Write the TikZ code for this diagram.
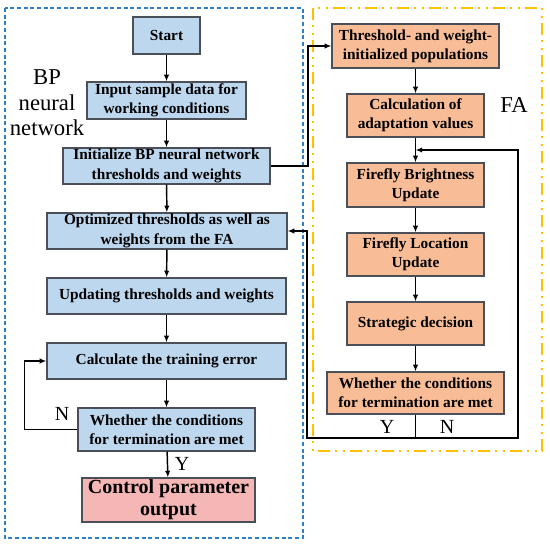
\documentclass[tikz,border=0pt]{standalone}
\usepackage{fontspec}
\setmainfont{Liberation Serif}
\usetikzlibrary{arrows.meta,positioning}
\definecolor{bpfill}{HTML}{BDD7EE}
\definecolor{fafill}{HTML}{F8BD96}
\definecolor{outfill}{HTML}{F4B7B5}
\definecolor{bpline}{HTML}{2E7FC6}
\definecolor{faline}{HTML}{FFC000}
\definecolor{boxline}{HTML}{4A4F58}

\begin{document}
\begin{tikzpicture}[x=0.75pt,y=-0.75pt,>={Latex[length=5pt,width=4pt]},
  bpbox/.style={draw=boxline,line width=0.9pt,fill=bpfill,align=center,font=\fontsize{11.5}{14.5}\selectfont\bfseries,inner sep=1pt},
  fabox/.style={draw=boxline,line width=0.9pt,fill=fafill,align=center,font=\fontsize{11.5}{14.5}\selectfont\bfseries,inner sep=1pt},
  flow/.style={line width=1.1pt,->},
  lbl/.style={font=\fontsize{15}{19}\selectfont,align=center}]
\useasboundingbox (0,0) rectangle (550,544);
% enclosures
\draw[bpline,line width=1.6pt,dash pattern=on 3pt off 2pt] (5,8) rectangle (303,538);
\draw[faline,line width=1.8pt,dash pattern=on 9pt off 4pt on 1.5pt off 4pt on 1.5pt off 4pt] (313,8) rectangle (542,451);
\node[lbl,font=\fontsize{17}{19}\selectfont] (bplbl) at (47,103) {BP\\neural\\network};
\node[lbl,font=\fontsize{17}{19}\selectfont] (falbl) at (514,105) {FA};
% BP column
\node[bpbox,minimum width=67*0.75pt,minimum height=37*0.75pt] (start) at (166.5,35.5) {Start};
\node[bpbox,minimum width=159*0.75pt,minimum height=37*0.75pt] (input) at (166.5,100.5) {Input sample data for\\working conditions};
\node[bpbox,minimum width=207*0.75pt,minimum height=36*0.75pt] (init) at (166.5,166) {Initialize BP neural network\\thresholds and weights};
\node[bpbox,minimum width=240*0.75pt,minimum height=36*0.75pt] (opt) at (167,231) {Optimized thresholds as well as\\weights from the FA};
\node[bpbox,minimum width=239*0.75pt,minimum height=36*0.75pt] (upd) at (166.5,296) {Updating thresholds and weights};
\node[bpbox,minimum width=239*0.75pt,minimum height=36*0.75pt] (calc) at (166.5,361) {Calculate the training error};
\node[bpbox,minimum width=177*0.75pt,minimum height=43*0.75pt] (cond) at (166.5,429.5) {Whether the conditions\\for termination are met};
\node[draw=boxline,line width=0.9pt,fill=outfill,align=center,font=\fontsize{15}{16.5}\selectfont\bfseries,inner sep=1pt,minimum width=173*0.75pt,minimum height=44*0.75pt] (out) at (168.5,500) {Control parameter\\output};
% FA column
\node[fabox,minimum width=167*0.75pt,minimum height=44*0.75pt] (pop) at (415.5,46) {Threshold- and weight-\\initialized populations};
\node[fabox,minimum width=137*0.75pt,minimum height=43*0.75pt] (fit) at (415.5,115.5) {Calculation of\\adaptation values};
\node[fabox,minimum width=137*0.75pt,minimum height=44*0.75pt] (bright) at (415.5,185) {Firefly Brightness\\Update};
\node[fabox,minimum width=137*0.75pt,minimum height=43*0.75pt] (loc) at (415.5,254.5) {Firefly Location\\Update};
\node[fabox,minimum width=137*0.75pt,minimum height=43*0.75pt] (strat) at (415.5,323.5) {Strategic decision};
\node[fabox,minimum width=177*0.75pt,minimum height=42*0.75pt] (fcond) at (415.5,393) {Whether the conditions\\for termination are met};
% connectors
\draw[flow] (start) -- (input);
\draw[flow] (input) -- (init);
\draw[flow] (init) -- (opt);
\draw[flow] (opt) -- (upd);
\draw[flow] (upd) -- (calc);
\draw[flow] (calc) -- (cond);
\draw[flow] (cond) -- (out);
\draw[flow] (cond.west) -- ++(-53,0) |- (calc.west);
\node[lbl] (bpn) at (62,414) {N};
\node[lbl] (bpy) at (182,464) {Y};
\coordinate (up) at (308,46);
\draw[flow] (init.east) -| (up) -- (pop.west);
\draw[flow] (pop) -- (fit);
\draw[flow] (fit) -- (bright);
\draw[flow] (bright) -- (loc);
\draw[flow] (loc) -- (strat);
\draw[flow] (strat) -- (fcond);
\coordinate (fbot) at (415.5,438);
\coordinate (fleft) at (307,438);
\coordinate (fright) at (518,438);
\coordinate (fback) at (415.5,150);
\draw[line width=1.1pt] (fcond.south) -- (fbot);
\draw[flow] (fbot) -- (fleft) |- (opt.east);
\draw[flow] (fbot) -- (fright) |- (fback);
\node[lbl] (fay) at (387,427) {Y};
\node[lbl] (fan) at (447,427) {N};
\end{tikzpicture}
\end{document}
